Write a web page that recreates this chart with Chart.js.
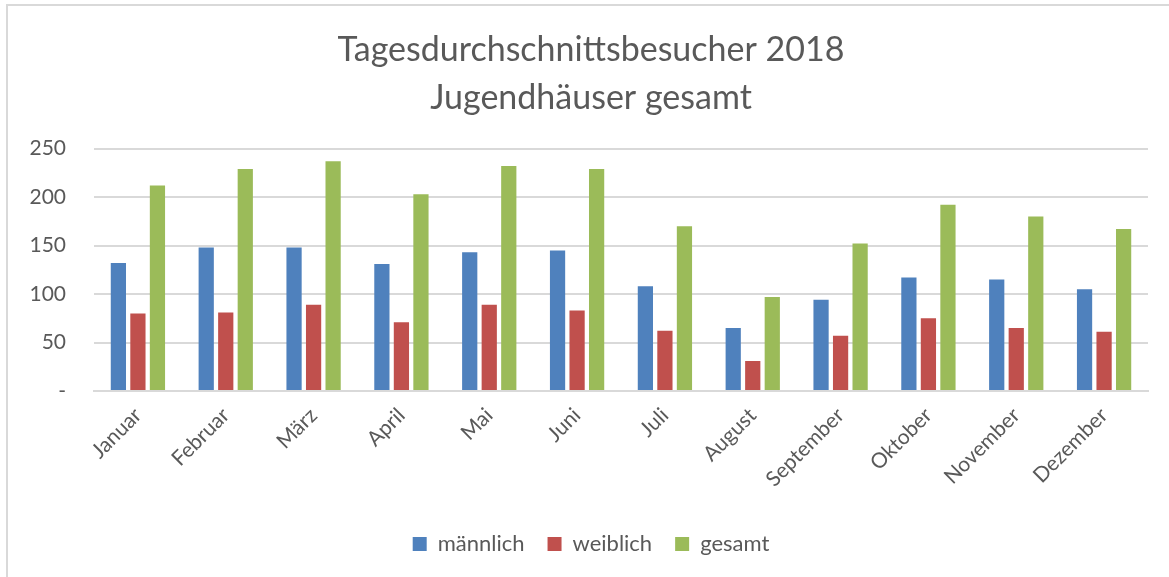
<!DOCTYPE html>
<html lang="de">
<head>
<meta charset="utf-8">
<title>Tagesdurchschnittsbesucher 2018</title>
<script src="https://cdn.jsdelivr.net/npm/chart.js@4/dist/chart.umd.min.js"></script>
<style>
  html, body { margin: 0; padding: 0; background: #fff; overflow: hidden; }
  .wrap { position: relative; width: 1169px; height: 577px; }
  .frame { position: absolute; left: 6px; top: 4px; right: -10px; bottom: -10px;
           border-left: 2px solid #d9d9d9; border-top: 2px solid #d9d9d9; pointer-events: none; }
</style>
</head>
<body>
<div class="wrap">
  <canvas id="chart-area"></canvas>
  <div class="frame"></div>
</div>

<script>
  // Monate
  var monate = ['Januar', 'Februar', 'März', 'April', 'Mai', 'Juni',
                'Juli', 'August', 'September', 'Oktober', 'November', 'Dezember'];

  // Tagesdurchschnitt Besucher
  var maennlich = [132, 148, 148, 131, 143, 145, 108, 65, 94, 117, 115, 105];
  var weiblich  = [80, 81, 89, 71, 89, 83, 62, 31, 57, 75, 65, 61];
  var gesamt    = [212, 229, 237, 203, 232, 229, 170, 97, 152, 192, 180, 167];

  var titel = ['Tagesdurchschnittsbesucher 2018', 'Jugendhäuser gesamt'];

  var textFarbe = '#595959';
  var schrift = 'Lato, "Open Sans", sans-serif';

  // Titel und Legende etwas nach rechts schieben (wie in Excel)
  var verschieben = {
    id: 'verschieben',
    afterLayout: function (chart) {
      chart.titleBlock.left += 34;
      chart.legend.left += 34;
    }
  };

  var config = {
    type: 'bar',
    data: {
      labels: monate,
      datasets: [
        { label: 'männlich', data: maennlich, backgroundColor: '#4f81bd' },
        { label: 'weiblich', data: weiblich, backgroundColor: '#c0504d' },
        { label: 'gesamt', data: gesamt, backgroundColor: '#9bbb59' }
      ]
    },
    options: {
      responsive: true,
      maintainAspectRatio: false,
      animation: false,
      datasets: {
        bar: { categoryPercentage: 0.667, barPercentage: 0.78 }
      },
      layout: { padding: { left: 0, right: 21, top: 0, bottom: 12 } },
      plugins: {
        title: {
          display: true,
          text: titel,
          color: textFarbe,
          font: { family: schrift, size: 34, weight: 'normal', lineHeight: 1.42 },
          padding: { top: 26, bottom: 26 }
        },
        legend: {
          position: 'bottom',
          labels: {
            color: textFarbe,
            font: { family: schrift, size: 22 },
            boxWidth: 14,
            boxHeight: 14,
            padding: 23
          }
        },
        tooltip: { enabled: false }
      },
      scales: {
        x: {
          grid: { display: false },
          border: { color: '#d9d9d9', width: 2 },
          ticks: {
            color: textFarbe,
            font: { family: schrift, size: 21 },
            minRotation: 45,
            maxRotation: 45,
            padding: 4
          },
          afterFit: function (scale) { scale.height = 119; }
        },
        y: {
          min: 0,
          max: 250,
          grid: { color: '#d9d9d9', lineWidth: 2, drawTicks: false },
          border: { display: false },
          ticks: {
            stepSize: 50,
            color: textFarbe,
            font: { family: schrift, size: 21 },
            padding: 28,
            callback: function (v) { return v === 0 ? '-' : v; }
          },
          afterFit: function (scale) { scale.width = 94; }
        }
      }
    },
    plugins: [verschieben]
  };

  window.onload = function () {
    var ctx = document.getElementById('chart-area').getContext('2d');
    window.myBar = new Chart(ctx, config);
  };
</script>
</body>
</html>
